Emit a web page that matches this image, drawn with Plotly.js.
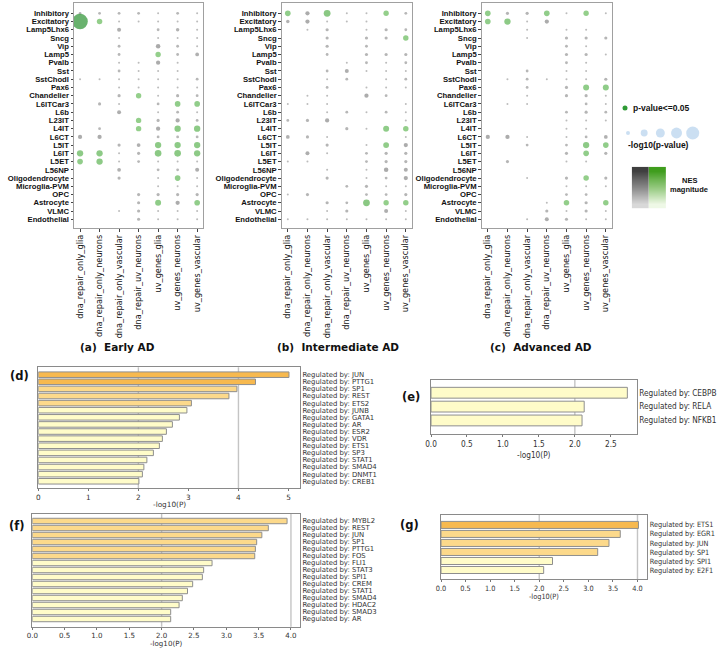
<!DOCTYPE html>
<html>
<head>
<meta charset="utf-8">
<script src="https://cdn.plot.ly/plotly-3.0.1.min.js"></script>
<style>
  html, body { margin: 0; padding: 0; background: #ffffff; }
  #fig { width: 720px; height: 648px; }
</style>
</head>
<body>
<div id="fig"></div>
<script>
// ---- cell types (rows) and gene sets (columns) of the enrichment dot plots ----
const cellTypes = ['Inhibitory', 'Excitatory', 'Lamp5Lhx6', 'Sncg', 'Vip', 'Lamp5', 'Pvalb', 'Sst',
  'SstChodl', 'Pax6', 'Chandelier', 'L6ITCar3', 'L6b', 'L23IT', 'L4IT', 'L6CT', 'L5IT', 'L6IT',
  'L5ET', 'L56NP', 'Oligodendrocyte', 'Microglia-PVM', 'OPC', 'Astrocyte', 'VLMC', 'Endothelial'];
const geneSets = ['dna_repair_only_glia', 'dna_repair_only_neurons', 'dna_repair_only_vascular',
  'dna_repair_uv_neurons', 'uv_genes_glia', 'uv_genes_neurons', 'uv_genes_vascular'];

// -log10(p-value) per cell type (row) and gene set (column); 0 = no dot
const earlyAD = [
  [0.4, 0.4, 0.4, 0.4, 0.12, 0.4, 0.12],
  [12, 1.5, 0.12, 0.12, 0.15, 0.15, 0.15],
  [0, 0, 0.8, 0, 0.4, 0.6, 0.12],
  [0, 0, 0.12, 0, 0.12, 0.12, 0.12],
  [0, 0, 0.4, 0, 1.0, 0.4, 0.12],
  [0, 0, 0.4, 0, 1.45, 0.4, 0.7],
  [0, 0, 0.15, 0.1, 0.9, 0.12, 0],
  [0, 0, 0.4, 0.12, 0.12, 0.15, 0],
  [0.1, 0.1, 0.15, 0.12, 0.12, 0.15, 0.4],
  [0, 0, 0.15, 0.12, 0.12, 0.12, 0.12],
  [0, 0, 0.5, 1.45, 0.12, 0.5, 0.4],
  [0, 0.5, 0.15, 0, 0.4, 1.6, 1.6],
  [0, 0, 0.8, 0, 0.15, 0.4, 0.15],
  [0, 0, 0, 1.45, 0.5, 0.9, 0.4],
  [0, 0.4, 0, 1.45, 0.9, 2.0, 2.0],
  [0.9, 0.9, 0, 0, 0.4, 0.4, 0.4],
  [0, 0, 0.5, 0.7, 2.0, 2.0, 2.0],
  [2.0, 2.0, 0.12, 0.5, 2.2, 2.2, 2.0],
  [1.6, 2.0, 0.12, 0.4, 0.12, 0.15, 0.15],
  [0, 0, 0.7, 0, 0.4, 0.4, 0.8],
  [0, 0, 0.5, 0, 0.15, 1.6, 0.15],
  [0, 0, 0, 0, 0.12, 0.12, 0.12],
  [0, 0, 0, 0.5, 0.5, 0.5, 0.5],
  [0, 0, 0, 0.5, 1.8, 0.9, 1.6],
  [0, 0, 0.12, 0.5, 0.12, 0.12, 0.15],
  [0, 0, 0, 0.5, 0.12, 0.12, 0.12]
];
const intermediateAD = [
  [1.6, 0.9, 2.3, 0.12, 0.12, 1.45, 0.4],
  [0.6, 0.9, 0.12, 0.12, 0.12, 0, 0],
  [0, 0.12, 0.5, 0, 0.12, 0.5, 0.4],
  [0, 0, 0.5, 0, 0.5, 0.5, 1.5],
  [0, 0, 0.5, 0, 0.4, 0, 0],
  [0, 0, 0.4, 0, 0.5, 0.5, 0.5],
  [0, 0, 0, 0.12, 0.4, 0.12, 0.4],
  [0, 0, 0.4, 0.8, 0.1, 0.15, 0.12],
  [0, 0, 0.15, 0.4, 0, 0.15, 0.4],
  [0, 0, 0.4, 0, 0.1, 0.12, 0.12],
  [0, 0.12, 0.15, 0, 0.9, 0.4, 0],
  [0.12, 0.12, 0.15, 0, 0, 0, 0.12],
  [0, 0, 0.15, 0.4, 0.15, 0.4, 0.12],
  [0.4, 0.5, 0.9, 0, 0, 0, 0.12],
  [0, 0, 0, 0.5, 0.12, 1.8, 1.5],
  [0.7, 0.5, 0.12, 0, 0, 0, 0.12],
  [0, 0, 0.5, 0, 0.15, 1.7, 0.9],
  [0, 0.8, 0.12, 0, 0.4, 0.5, 0.5],
  [0.12, 0.15, 0, 0, 0.4, 0.5, 0.5],
  [0, 0, 0.12, 0, 0.12, 1.0, 0.8],
  [0, 0, 0.5, 0, 0.12, 0.4, 0.9],
  [0, 0, 0, 0.4, 0.5, 0.12, 0.12],
  [0.12, 0.5, 0, 0, 0.4, 0.4, 0.5],
  [0, 0, 0.5, 0.4, 2.3, 1.45, 1.5],
  [0, 0, 0.12, 0.5, 0, 0.8, 0.12],
  [0.12, 0.12, 0.12, 0.12, 0.12, 0.12, 0.12]
];
const advancedAD = [
  [1.6, 0.5, 0.5, 1.6, 0.12, 1.45, 0.12],
  [1.6, 2.0, 0.12, 0.9, 0, 0, 0],
  [0, 0, 0.12, 0, 0.12, 0.12, 0],
  [0, 0, 0.12, 0, 0.5, 0.5, 0.5],
  [0, 0, 0, 0, 0.4, 0.12, 0],
  [0, 0, 0, 0, 0.5, 0.5, 0.12],
  [0, 0, 0, 0, 0.4, 0.12, 0],
  [0, 0, 0.4, 0, 0.12, 0.12, 0],
  [0, 0.12, 0.4, 0.12, 0.12, 0.12, 0.5],
  [0, 0, 0.4, 0, 0.5, 1.8, 1.8],
  [0, 0, 0.12, 0, 0.5, 0.5, 0.12],
  [0, 0.12, 0.12, 0, 0, 0.4, 0.12],
  [0, 0, 0, 0, 0.4, 0.5, 0.4],
  [0, 0, 0, 0, 0.12, 0.12, 0.12],
  [0, 0, 0, 0, 0.12, 0.12, 0],
  [0.9, 0.9, 0.12, 0, 0.12, 0.4, 0.7],
  [0, 0, 0.4, 0, 0.4, 2.0, 1.6],
  [0, 0, 0, 0, 0.5, 1.6, 0.5],
  [0, 0.5, 0, 0, 0.12, 0.12, 0],
  [0, 0, 0, 0, 0, 0, 0],
  [0, 0, 0.12, 0, 0.5, 1.5, 0.5],
  [0, 0, 0, 0, 0.12, 0.12, 0.12],
  [0, 0, 0, 0, 0.4, 0.4, 0],
  [0, 0, 0, 0.12, 1.5, 0.5, 1.5],
  [0, 0, 0, 0.5, 0.12, 0.5, 0.12],
  [0, 0, 0.12, 0.8, 0.5, 0.12, 0.12]
];

// ---- transcription-factor enrichment, -log10(P) ----
const regulatorsD = ['JUN', 'PTTG1', 'SP1', 'REST', 'ETS2', 'JUNB', 'GATA1', 'AR', 'ESR2', 'VDR',
  'ETS1', 'SP3', 'STAT1', 'SMAD4', 'DNMT1', 'CREB1'];
const log10pD = [5.01, 4.34, 3.97, 3.81, 3.06, 2.97, 2.82, 2.68, 2.56, 2.48, 2.42, 2.30, 2.17, 2.11, 2.08, 2.01];
const regulatorsE = ['CEBPB', 'RELA', 'NFKB1'];
const log10pE = [2.73, 2.13, 2.10];
const regulatorsF = ['MYBL2', 'REST', 'JUN', 'SP1', 'PTTG1', 'FOS', 'FLI1', 'STAT3', 'SPI1', 'CREM',
  'STAT1', 'SMAD4', 'HDAC2', 'SMAD3', 'AR'];
const log10pF = [3.94, 3.65, 3.55, 3.47, 3.45, 3.44, 2.78, 2.65, 2.63, 2.48, 2.40, 2.32, 2.27, 2.14, 2.14];
const regulatorsG = ['ETS1', 'EGR1', 'JUN', 'SP1', 'SPI1', 'E2F1'];
const log10pG = [4.02, 3.65, 3.42, 3.19, 2.27, 2.09];

// ---- legend keys ----
const sizeLegendLevels = [0.8, 2.4, 4, 6, 8.5];
const nesRamp = [1, 0.75, 0.5, 0.25, 0];

// pixel -> paper helpers (page is 720 x 648)
const W = 720, H = 648;
const px = v => v / W;
const py = v => 1 - v / H;

const BOLD = 'Liberation Sans';
const SANS = 'DejaVu Sans';
const NARROW = 'Liberation Sans Narrow, DejaVu Sans Condensed, Liberation Sans, sans-serif';

const dotColorscale = [
  [0, '#a3a3a3'], [1.29 / 12, '#7e7e7e'],
  [1.3 / 12, '#68bb5c'], [3 / 12, '#4daa45'], [1, '#2a9230']
];
const SIZEREF = 0.1;

const traces = [];
const layout = {
  width: W, height: H,
  margin: { l: 0, r: 0, t: 0, b: 0 },
  paper_bgcolor: '#ffffff', plot_bgcolor: 'rgba(0,0,0,0)',
  showlegend: false,
  shapes: [], annotations: []
};

const ann = (text, x, y, opts) => Object.assign({
  text, x: px(x), y: py(y), xref: 'paper', yref: 'paper', showarrow: false,
  xanchor: 'center', yanchor: 'middle',
  font: { family: SANS, size: 10.5, weight: 'bold', color: '#111' }
}, opts || {});

// ---- dot plots ----
const dotPanels = [
  { data: earlyAD, id: '', x0: 74, x1: 203 },
  { data: intermediateAD, id: '2', x0: 281.7, x1: 411.7 },
  { data: advancedAD, id: '3', x0: 481.7, x1: 611.7 }
];
dotPanels.forEach(p => {
  const xs = [], ys = [], vs = [];
  p.data.forEach((row, r) => row.forEach((v, c) => {
    if (v > 0) { xs.push(geneSets[c]); ys.push(cellTypes[r]); vs.push(v); }
  }));
  traces.push({
    type: 'scatter', mode: 'markers', x: xs, y: ys,
    xaxis: 'x' + p.id, yaxis: 'y' + p.id,
    marker: { size: vs, sizemode: 'area', sizeref: SIZEREF, sizemin: 1,
      color: vs, colorscale: dotColorscale, cmin: 0, cmax: 12, line: { width: 0 } },
    hovertemplate: '%{y} / %{x}<br>-log10(p) = %{marker.size}<extra></extra>'
  });
  layout['xaxis' + p.id] = {
    domain: [px(p.x0), px(p.x1)], anchor: 'y' + p.id,
    type: 'category', categoryorder: 'array', categoryarray: geneSets,
    tickmode: 'array', tickvals: geneSets, ticktext: geneSets,
    range: [-0.31, 6.3],
    showline: true, mirror: true, linecolor: '#a0a0a0', linewidth: 1,
    ticks: 'outside', ticklen: 2.5, tickcolor: '#444', tickangle: -90,
    tickfont: { family: SANS, size: 8.2, color: '#111' },
    showgrid: false, zeroline: false, fixedrange: true
  };
  layout['yaxis' + p.id] = {
    domain: [py(228), py(3)], anchor: 'x' + p.id,
    type: 'category', categoryorder: 'array', categoryarray: cellTypes,
    tickmode: 'array', tickvals: cellTypes, ticktext: cellTypes,
    range: [26.06, -1.25],
    showline: true, mirror: true, linecolor: '#a0a0a0', linewidth: 1,
    ticks: 'outside', ticklen: 2.5, tickcolor: '#444',
    tickfont: { family: BOLD, size: 7.7, weight: 'bold', color: '#111' },
    showgrid: false, zeroline: false, fixedrange: true
  };
});

// ---- bar charts ----
const barColorscale = [
  [0, '#fffcc9'], [0.3333, '#fffcc9'], [0.3334, '#fcd98b'],
  [0.6666, '#fcd98b'], [0.6667, '#f7b94f'], [1, '#f7b94f']
];
const barPanels = [
  { names: regulatorsD, vals: log10pD, id: '4', x0: 38.3, x1: 300, y0: 367.3, y1: 488.3, ty: 504,
    xr: [0, 5.23], padTop: 1.04, padBot: 0.99, dtick: 1, fmt: 'd', font: SANS, fs: 6.9, tfs: 7.3,
    grid: [2, 4] },
  { names: regulatorsE, vals: log10pE, id: '5', x0: 431, x1: 636.7, y0: 380, y1: 434.3, ty: 455,
    xr: [0, 2.86], padTop: 0.92, padBot: 1.0, dtick: 0.5, fmt: '.1f', font: NARROW, fs: 8.2, tfs: 8.2,
    grid: [2] },
  { names: regulatorsF, vals: log10pF, id: '6', x0: 32.3, x1: 300, y0: 514, y1: 626.7, ty: 643.3,
    xr: [0, 4.14], padTop: 1.0, padBot: 1.1, dtick: 0.5, fmt: '.1f', font: SANS, fs: 6.9, tfs: 7.1,
    grid: [2, 4] },
  { names: regulatorsG, vals: log10pG, id: '7', x0: 441, x1: 647.3, y0: 515, y1: 579, ty: 596,
    xr: [0, 4.2], padTop: 1.1, padBot: 1.0, dtick: 0.5, fmt: '.1f', font: NARROW, fs: 7.3, tfs: 7.3,
    grid: [2, 4] }
];
barPanels.forEach(p => {
  const labels = p.names.map(n => 'Regulated by: ' + n);
  p.grid.forEach(g => layout.shapes.push({
    type: 'line', xref: 'x' + p.id, yref: 'y' + p.id + ' domain',
    x0: g, x1: g, y0: 0, y1: 1, layer: 'below',
    line: { color: '#c4c4c4', width: 1.4 }
  }));
  traces.push({
    type: 'bar', orientation: 'h', x: p.vals, y: labels,
    xaxis: 'x' + p.id, yaxis: 'y' + p.id, width: 0.78,
    marker: { color: p.vals, colorscale: barColorscale, cmin: 2, cmax: 5,
      line: { color: '#8e8e8e', width: 1 } },
    hovertemplate: '%{y}: %{x}<extra></extra>'
  });
  layout['xaxis' + p.id] = {
    domain: [px(p.x0), px(p.x1)], anchor: 'y' + p.id, range: p.xr,
    dtick: p.dtick, tick0: 0, tickformat: p.fmt,
    showline: true, mirror: true, linecolor: '#8a8a8a', linewidth: 1,
    ticks: 'outside', ticklen: 2, tickcolor: '#777',
    tickfont: { family: p.font, size: p.tfs, color: '#333' },
    showgrid: false, zeroline: false, fixedrange: true
  };
  layout['yaxis' + p.id] = {
    domain: [py(p.y1), py(p.y0)], anchor: 'x' + p.id, side: 'right',
    type: 'category', categoryorder: 'array', categoryarray: labels,
    tickmode: 'array', tickvals: labels, ticktext: labels,
    range: [labels.length - 1 + p.padBot, -p.padTop],
    showline: true, mirror: true, linecolor: '#8a8a8a', linewidth: 1,
    ticks: '', tickfont: { family: p.font, size: p.fs, color: '#333' },
    showgrid: false, zeroline: false, fixedrange: true
  };
  // axis title
  layout.annotations.push(ann('-log10(P)', (p.x0 + p.x1) / 2, p.ty,
    { font: { family: p.font, size: p.tfs, color: '#333' } }));
});

// ---- size key for -log10(p-value) ----
traces.push({
  type: 'scatter', mode: 'markers',
  x: sizeLegendLevels.map((_, i) => i), y: sizeLegendLevels.map(() => 0),
  xaxis: 'x8', yaxis: 'y8', hoverinfo: 'skip',
  marker: { size: sizeLegendLevels, sizemode: 'area', sizeref: SIZEREF, color: '#b5d2ec', line: { width: 0 } }
});
layout.xaxis8 = { domain: [px(619.9), px(700.8)], anchor: 'y8', range: [-0.5, 4.5], visible: false, fixedrange: true };
layout.yaxis8 = { domain: [py(143), py(123)], anchor: 'x8', range: [-1, 1], visible: false, fixedrange: true };

// ---- NES magnitude key: grey and green ramps ----
const rampZ = nesRamp.map(v => [v, v]);
traces.push({
  type: 'heatmap', z: rampZ, x: [0, 1], y: nesRamp.map((_, i) => i), xaxis: 'x9', yaxis: 'y9',
  colorscale: [[0, '#d8d8d8'], [1, '#3f3f3f']], zmin: 0, zmax: 1, zsmooth: 'best',
  showscale: false, hoverinfo: 'skip'
});
traces.push({
  type: 'heatmap', z: rampZ, x: [2, 3], y: nesRamp.map((_, i) => i), xaxis: 'x9', yaxis: 'y9',
  colorscale: [[0, '#eef8e6'], [1, '#3f9d1d']], zmin: 0, zmax: 1, zsmooth: 'best',
  showscale: false, hoverinfo: 'skip'
});
layout.xaxis9 = { domain: [px(631.7), px(666)], anchor: 'y9', range: [-0.5, 3.5], visible: false, fixedrange: true };
layout.yaxis9 = { domain: [py(208.3), py(166.7)], anchor: 'x9', range: [4.5, -0.5], visible: false, fixedrange: true };

// significance key dot
layout.shapes.push({
  type: 'circle', xref: 'paper', yref: 'paper',
  x0: px(622.5), x1: px(627.5), y0: py(110.5), y1: py(105.5),
  fillcolor: '#2e9a35', line: { width: 0 }
});

layout.annotations.push(
  ann('p-value&lt;=0.05', 631, 108, { xanchor: 'left', font: { family: BOLD, size: 8.5, weight: 'bold', color: '#111' } }),
  ann('-log10(p-value)', 626, 144.5, { xanchor: 'left', font: { family: BOLD, size: 8.5, weight: 'bold', color: '#111' } }),
  ann('NES', 689, 180, { font: { family: BOLD, size: 7.5, weight: 'bold', color: '#111' } }),
  ann('magnitude', 689, 189, { font: { family: BOLD, size: 7.5, weight: 'bold', color: '#111' } }),
  ann('(a)\u00a0\u00a0Early AD', 117, 347),
  ann('(b)\u00a0\u00a0Intermediate AD', 337.5, 347),
  ann('(c)\u00a0\u00a0Advanced AD', 540.5, 347),
  ann('(d)', 19, 375.5, { font: { family: SANS, size: 11.5, weight: 'bold', color: '#111' } }),
  ann('(e)', 411, 397, { font: { family: SANS, size: 11.5, weight: 'bold', color: '#111' } }),
  ann('(f)', 17, 526, { font: { family: SANS, size: 11.5, weight: 'bold', color: '#111' } }),
  ann('(g)', 409, 525, { font: { family: SANS, size: 11.5, weight: 'bold', color: '#111' } })
);

Plotly.newPlot('fig', traces, layout, { displayModeBar: false });
</script>
</body>
</html>
